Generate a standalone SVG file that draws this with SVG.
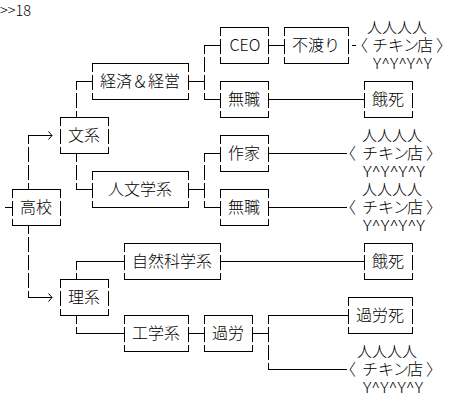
<svg xmlns="http://www.w3.org/2000/svg" width="460" height="414" viewBox="0 0 460 414">
<style>
.ln{fill:none;stroke:#000;stroke-width:1;shape-rendering:crispEdges}
.ah{fill:none;stroke:#000;stroke-width:1}
text{font-family:"Noto Sans CJK JP","Noto Sans CJK SC",sans-serif;font-size:16px;font-weight:300;fill:#000}
.c{text-anchor:middle}
.top{font-size:15px}
.bot{font-size:14px}
</style>
<rect width="460" height="414" fill="#fff"/>
<text x="0" y="16" style="font-size:15px" textLength="31" lengthAdjust="spacingAndGlyphs">&gt;&gt;18</text>
<g id="connectors">
<path class="ln" d="M5 207.5H12"/>
<path class="ln" d="M28.5 135V144M28.5 147V162M28.5 165V180M28.5 183V190M28 135.5H52"/>
<path class="ah" d="M48.5 131.5L52 135.5L48.5 139.5"/>
<path class="ln" d="M28.5 225V234M28.5 237V252M28.5 255V270M28.5 273V288M28.5 291V298M28 297.5H52"/>
<path class="ah" d="M48.5 293.5L52 297.5L48.5 301.5"/>
<path class="ln" d="M76.5 81V90M76.5 93V108M76.5 111V118M76 81.5H93"/>
<path class="ln" d="M76.5 153V162M76.5 165V180M76.5 183V190M76 189.5H93"/>
<path class="ln" d="M188 81.5H205M204.5 45V54M204.5 57V72M204.5 75V90M204.5 93V100M204 45.5H221M204 99.5H221"/>
<path class="ln" d="M268 45.5H285"/>
<path class="ln" d="M352 45.5H356"/>
<path class="ln" d="M268 99.5H365"/>
<path class="ln" d="M188 189.5H205M204.5 153V162M204.5 165V180M204.5 183V198M204.5 201V208M204 153.5H221M204 207.5H221"/>
<path class="ln" d="M268 153.5H347"/>
<path class="ln" d="M268 207.5H347"/>
<path class="ln" d="M76.5 261V270M76.5 273V280M76 261.5H125"/>
<path class="ln" d="M220 261.5H365"/>
<path class="ln" d="M76.5 315V324M76.5 327V334M76 333.5H125"/>
<path class="ln" d="M188 333.5H205"/>
<path class="ln" d="M252 333.5H269M268.5 315V324M268.5 327V342M268.5 345V360M268.5 363V370M268 315.5H349M268 369.5H347"/>
</g>
<g id="koukou"><path class="ln" d="M12 189.5H61M12 225.5H61M12.5 189V198M12.5 201V216M12.5 219V226M60.5 189V198M60.5 201V216M60.5 219V226"/><text class="c" x="36" y="213">高校</text></g>
<g id="bunkei"><path class="ln" d="M60 117.5H109M60 153.5H109M60.5 117V126M60.5 129V144M60.5 147V154M108.5 117V126M108.5 129V144M108.5 147V154"/><text class="c" x="84" y="141">文系</text></g>
<g id="rikei"><path class="ln" d="M60 279.5H109M60 315.5H109M60.5 279V288M60.5 291V306M60.5 309V316M108.5 279V288M108.5 291V306M108.5 309V316"/><text class="c" x="84" y="303">理系</text></g>
<g id="keizai"><path class="ln" d="M92 63.5H189M92 99.5H189M92.5 63V72M92.5 75V90M92.5 93V100M188.5 63V72M188.5 75V90M188.5 93V100"/><text class="c" x="140" y="87">経済＆経営</text></g>
<g id="jinbun"><path class="ln" d="M92 171.5H189M92 207.5H189M92.5 171V180M92.5 183V198M92.5 201V208M188.5 171V180M188.5 183V198M188.5 201V208"/><text class="c" x="140" y="195">人文学系</text></g>
<g id="shizen"><path class="ln" d="M124 243.5H221M124 279.5H221M124.5 243V252M124.5 255V270M124.5 273V280M220.5 243V252M220.5 255V270M220.5 273V280"/><text class="c" x="172" y="267">自然科学系</text></g>
<g id="kougaku"><path class="ln" d="M124 315.5H189M124 351.5H189M124.5 315V324M124.5 327V342M124.5 345V352M188.5 315V324M188.5 327V342M188.5 345V352"/><text class="c" x="156" y="339">工学系</text></g>
<g id="karou"><path class="ln" d="M204 315.5H253M204 351.5H253M204.5 315V324M204.5 327V342M204.5 345V352M252.5 315V324M252.5 327V342M252.5 345V352"/><text class="c" x="228" y="339">過労</text></g>
<g id="ceo"><path class="ln" d="M220 27.5H269M220 63.5H269M220.5 27V36M220.5 39V54M220.5 57V64M268.5 27V36M268.5 39V54M268.5 57V64"/><text class="c" x="245" y="51">CEO</text></g>
<g id="fuwatari"><path class="ln" d="M284 27.5H349M284 63.5H349M284.5 27V36M284.5 39V54M284.5 57V64M348.5 27V36M348.5 39V54M348.5 57V64"/><text class="c" x="316" y="51">不渡り</text></g>
<g id="mushoku1"><path class="ln" d="M220 81.5H269M220 117.5H269M220.5 81V90M220.5 93V108M220.5 111V118M268.5 81V90M268.5 93V108M268.5 111V118"/><text class="c" x="244" y="105">無職</text></g>
<g id="gashi1"><path class="ln" d="M364 81.5H413M364 117.5H413M364.5 81V90M364.5 93V108M364.5 111V118M412.5 81V90M412.5 93V108M412.5 111V118"/><text class="c" x="388" y="105">餓死</text></g>
<g id="sakka"><path class="ln" d="M220 135.5H269M220 171.5H269M220.5 135V144M220.5 147V162M220.5 165V172M268.5 135V144M268.5 147V162M268.5 165V172"/><text class="c" x="244" y="159">作家</text></g>
<g id="mushoku2"><path class="ln" d="M220 189.5H269M220 225.5H269M220.5 189V198M220.5 201V216M220.5 219V226M268.5 189V198M268.5 201V216M268.5 219V226"/><text class="c" x="244" y="213">無職</text></g>
<g id="gashi2"><path class="ln" d="M364 243.5H413M364 279.5H413M364.5 243V252M364.5 255V270M364.5 273V280M412.5 243V252M412.5 255V270M412.5 273V280"/><text class="c" x="388" y="267">餓死</text></g>
<g id="karoushi"><path class="ln" d="M348 297.5H413M348 333.5H413M348.5 297V306M348.5 309V324M348.5 327V334M412.5 297V306M412.5 309V324M412.5 327V334"/><text class="c" x="380" y="321">過労死</text></g>
<g id="chicken1"><text class="top" x="367" y="33">人人人人</text><text x="352 372 388 403 417 436" y="51">〈チキン店〉</text><text class="bot" x="373" y="69" textLength="59" lengthAdjust="spacingAndGlyphs">Y^Y^Y^Y</text></g>
<g id="chicken2"><text class="top" x="362" y="141">人人人人</text><text x="340 362 378 393 407 426" y="159">〈チキン店〉</text><text class="bot" x="363" y="177" textLength="62" lengthAdjust="spacingAndGlyphs">Y^Y^Y^Y</text></g>
<g id="chicken3"><text class="top" x="362" y="195">人人人人</text><text x="340 362 378 393 407 426" y="213">〈チキン店〉</text><text class="bot" x="363" y="231" textLength="62" lengthAdjust="spacingAndGlyphs">Y^Y^Y^Y</text></g>
<g id="chicken4"><text class="top" x="357" y="357">人人人人</text><text x="340 362 378 393 407 426" y="375">〈チキン店〉</text><text class="bot" x="363" y="393" textLength="60" lengthAdjust="spacingAndGlyphs">Y^Y^Y^Y</text></g>
</svg>
